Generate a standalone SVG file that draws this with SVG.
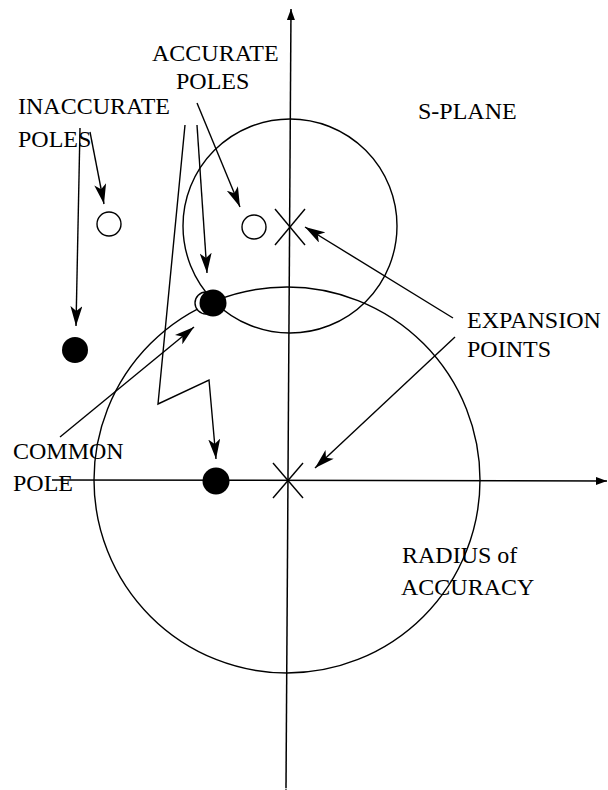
<svg xmlns="http://www.w3.org/2000/svg" width="608" height="790" viewBox="0 0 608 790">
<style>
.ln{fill:none;stroke:#000;stroke-width:1.4}
.ax{fill:none;stroke:#000;stroke-width:1.5}
.t{font-family:"Liberation Serif",serif;font-size:24px;fill:#000}
.open{fill:#fff;stroke:#000;stroke-width:1.4}
.full{fill:#000}
</style>
<defs>
<marker id="ah" markerWidth="22" markerHeight="12" refX="20" refY="6" orient="auto" markerUnits="userSpaceOnUse">
<path d="M0,0 L20,6 L0,12 L5,6 Z" fill="#000"/>
</marker>
<marker id="axh" markerWidth="12" markerHeight="8" refX="11" refY="4" orient="auto" markerUnits="userSpaceOnUse">
<path d="M0,0 L11,4 L0,8 Z" fill="#000"/>
</marker>
</defs>
<rect width="608" height="790" fill="#fff"/>
<g id="axes">
<line class="ax" x1="286" y1="788" x2="291" y2="9" marker-start="url(#axh)" marker-end="url(#axh)"/>
<line class="ax" x1="52" y1="480" x2="607" y2="481" marker-end="url(#axh)"/>
</g>
<g id="accuracy-circles">
<circle class="ln" cx="290" cy="226" r="107"/>
<circle class="ln" cx="287" cy="480" r="193"/>
</g>
<g id="expansion-upper">
<line class="ln" x1="275" y1="209" x2="305" y2="245"/>
<line class="ln" x1="305" y1="209" x2="275" y2="245"/>
</g>
<g id="expansion-lower">
<line class="ln" x1="273" y1="463" x2="303" y2="498"/>
<line class="ln" x1="303" y1="463" x2="273" y2="498"/>
</g>
<g id="pole-inaccurate-open"><circle class="open" cx="109" cy="224" r="12"/></g>
<g id="pole-accurate-open"><circle class="open" cx="254" cy="227" r="12"/></g>
<g id="pole-inaccurate-filled"><circle class="full" cx="75" cy="350" r="13"/></g>
<g id="pole-common">
<circle class="open" cx="206" cy="303" r="11"/>
<circle class="full" cx="213" cy="303" r="13.5"/>
</g>
<g id="pole-lower-filled"><circle class="full" cx="216" cy="481" r="13.5"/></g>
<g id="connectors">
<line class="ln" x1="90" y1="132" x2="104" y2="204" marker-end="url(#ah)"/>
<line class="ln" x1="80" y1="128" x2="76" y2="326" marker-end="url(#ah)"/>
<line class="ln" x1="197" y1="103" x2="240" y2="207" marker-end="url(#ah)"/>
<line class="ln" x1="197" y1="125" x2="207" y2="273" marker-end="url(#ah)"/>
<polyline class="ln" points="185,125 158,404 209,380 216,459" marker-end="url(#ah)"/>
<line class="ln" x1="60" y1="437" x2="194" y2="327" marker-end="url(#ah)"/>
<line class="ln" x1="453" y1="318" x2="305" y2="227" marker-end="url(#ah)"/>
<line class="ln" x1="455" y1="337" x2="315" y2="468" marker-end="url(#ah)"/>
</g>
<g id="labels">
<text class="t" x="152" y="61">ACCURATE</text>
<text class="t" x="176" y="89">POLES</text>
<text class="t" x="18" y="114">INACCURATE</text>
<text class="t" x="18" y="147">POLES</text>
<text class="t" x="418" y="119">S-PLANE</text>
<text class="t" x="467" y="328">EXPANSION</text>
<text class="t" x="467" y="357">POINTS</text>
<text class="t" x="13" y="459">COMMON</text>
<text class="t" x="13" y="491">POLE</text>
<text class="t" x="402" y="563">RADIUS of</text>
<text class="t" x="401" y="595">ACCURACY</text>
</g>
</svg>
